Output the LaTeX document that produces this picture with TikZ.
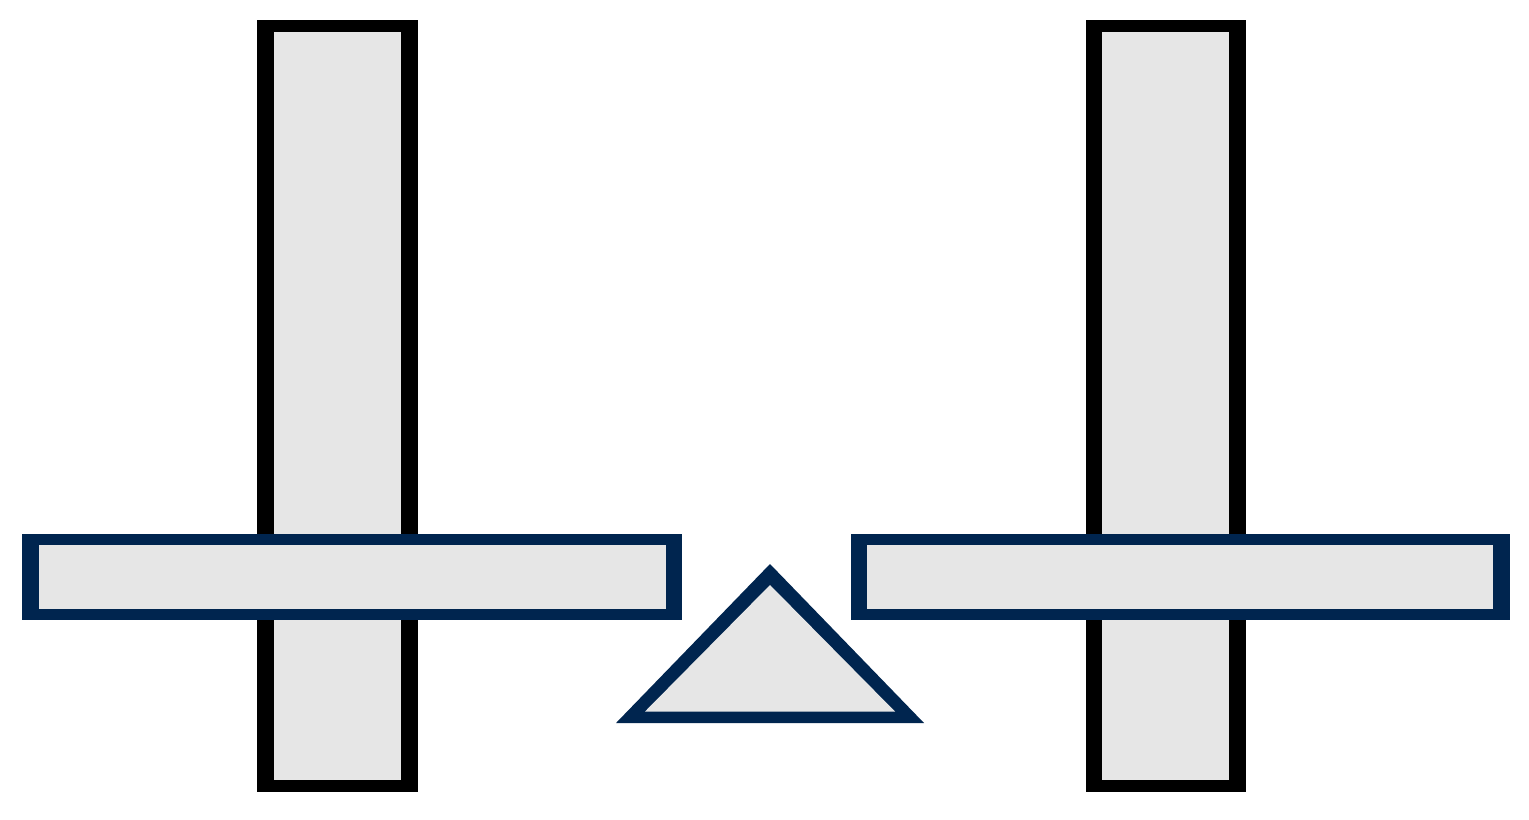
\documentclass[tikz,border=0pt]{standalone}
\definecolor{navy}{HTML}{00254F}
\definecolor{panel}{HTML}{E6E6E6}
\tikzset{
  blackedge/.style={fill=black},
  navyedge/.style={fill=navy},
  inner/.style={fill=panel}
}
\begin{document}
\begin{tikzpicture}[x=0.5pt,y=-0.5pt]
\useasboundingbox[fill=white] (0,0) rectangle (1529,819);
% left vertical bar
\path[blackedge] (257,20) rectangle (417.5,791.5);
\path[inner] (274,32) rectangle (400.5,780);
% right vertical bar
\path[blackedge] (1085.7,20) rectangle (1245.7,791.5);
\path[inner] (1102.3,32) rectangle (1228.5,779.5);
% left horizontal bar
\path[navyedge] (21.7,534.3) rectangle (681.7,620);
\path[inner] (38.7,545) rectangle (665.7,609.3);
% right horizontal bar
\path[navyedge] (850.7,534.3) rectangle (1510,620);
\path[inner] (866.7,545) rectangle (1493.3,609.3);
% triangle
\path[navyedge] (770,564) -- (924,723) -- (616,723) -- cycle;
\path[inner] (770,585) -- (895,711.5) -- (645,711.5) -- cycle;
\end{tikzpicture}
\end{document}
